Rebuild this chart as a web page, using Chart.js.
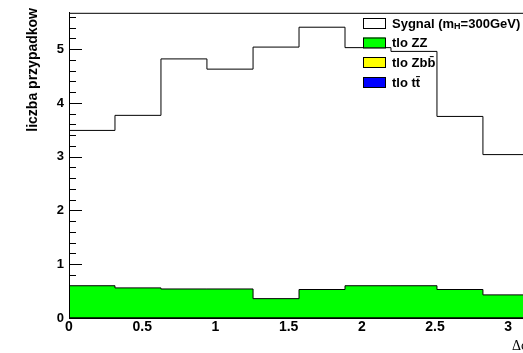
<!DOCTYPE html>
<html>
<head>
<meta charset="utf-8">
<script src="https://cdn.jsdelivr.net/npm/chart.js@4"></script>
<style>
  html, body { margin: 0; padding: 0; background: #fff; overflow: hidden; }
  #wrap { width: 523px; height: 353px; overflow: hidden; }
</style>
</head>
<body>
<div id="wrap"><canvas id="c" width="545" height="353"></canvas></div>
<script>
// bin edges of the delta-phi histogram (10 bins, 0..pi)
const binEdges = [0, 0.314, 0.628, 0.942, 1.257, 1.571, 1.885, 2.199, 2.513, 2.827, 3.1416];
const sygnal = [3.49, 3.77, 4.82, 4.63, 5.04, 5.41, 5.03, 4.96, 3.75, 3.04];
const tloZZ = [0.60, 0.56, 0.54, 0.54, 0.36, 0.53, 0.60, 0.60, 0.53, 0.43];
const tloZbb = [0, 0, 0, 0, 0, 0, 0, 0, 0, 0];
const tloTt = [0, 0, 0, 0, 0, 0, 0, 0, 0, 0];
const legendLabels = ['Sygnal (m', 'tlo ZZ', 'tlo Zbb\u0304', 'tlo tt\u0304'];
const legendColors = ['#ffffff', '#00ff00', '#ffff00', '#0000ff'];
const yTitle = 'liczba przypadkow';
const xTitle = '\u0394\u03c6';

const FONT = '"Liberation Sans", Arial, sans-serif';

// histogram -> step points (last bin closed at the upper edge)
function toSteps(vals) {
  const pts = vals.map((v, i) => ({ x: binEdges[i], y: v }));
  pts.push({ x: binEdges[binEdges.length - 1], y: vals[vals.length - 1] });
  return pts;
}

function histo(label, vals, fillColor) {
  return {
    label: label,
    data: toSteps(vals),
    stepped: 'before',
    borderColor: '#000',
    borderWidth: 1,
    backgroundColor: fillColor || 'transparent',
    fill: fillColor ? 'origin' : false,
    pointRadius: 0
  };
}

const rootLook = {
  id: 'rootLook',
  beforeDatasetsDraw(chart) {
    const ctx = chart.ctx;
    const a = chart.chartArea;
    const y = chart.scales.y;
    ctx.save();
    ctx.strokeStyle = '#000';
    ctx.lineWidth = 1;
    // y ticks, major and minor, drawn inside the frame
    for (let k = 0; k <= 28; k++) {
      const v = k * 0.2;
      if (v > y.max) break;
      const py = Math.round(y.getPixelForValue(v)) + 0.5;
      const len = (k % 5 === 0) ? 13 : 7;
      ctx.beginPath();
      ctx.moveTo(a.left, py);
      ctx.lineTo(a.left + len, py);
      ctx.stroke();
    }
    ctx.restore();
  },
  afterDatasetsDraw(chart) {
    const ctx = chart.ctx;
    const a = chart.chartArea;
    ctx.save();
    ctx.strokeStyle = '#000';
    ctx.lineWidth = 1;
    // frame
    ctx.beginPath();
    ctx.moveTo(a.left + 0.5, a.bottom + 0.5);
    ctx.lineTo(a.left + 0.5, a.top + 0.5);
    ctx.lineTo(a.right, a.top + 0.5);
    ctx.moveTo(a.left, a.bottom + 0.5);
    ctx.lineTo(a.right, a.bottom + 0.5);
    ctx.stroke();

    // legend
    const bx = 363, bw = 22, bh = 10;
    const rows = [18, 37.5, 57, 77];
    ctx.font = 'bold 13px ' + FONT;
    ctx.textBaseline = 'middle';
    ctx.textAlign = 'left';
    rows.forEach((ry, i) => {
      ctx.fillStyle = legendColors[i];
      ctx.fillRect(bx, ry, bw, bh);
      ctx.strokeRect(bx + 0.5, ry + 0.5, bw, bh);
      ctx.fillStyle = '#000';
      const ty = ry + bh / 2 + 1;
      if (i === 0) {
        ctx.fillText(legendLabels[0], 392, ty);
        let tx = 392 + ctx.measureText(legendLabels[0]).width;
        ctx.font = 'bold 9px ' + FONT;
        ctx.fillText('H', tx, ty + 3);
        tx += ctx.measureText('H').width;
        ctx.font = 'bold 13px ' + FONT;
        ctx.fillText('=300GeV)', tx, ty);
      } else {
        ctx.fillText(legendLabels[i], 392, ty);
      }
    });

    // axis titles
    ctx.font = 'bold 14px ' + FONT;
    ctx.textBaseline = 'alphabetic';
    ctx.save();
    ctx.translate(37, 8);
    ctx.rotate(-Math.PI / 2);
    ctx.textAlign = 'right';
    ctx.fillText(yTitle, 0, 0);
    ctx.restore();
    ctx.font = '14px "Liberation Serif", "Times New Roman", serif';
    ctx.textAlign = 'right';
    ctx.fillText(xTitle, a.right, 350);
    ctx.restore();
  }
};

new Chart(document.getElementById('c'), {
  type: 'line',
  data: {
    datasets: [
      histo('tlo tt', tloTt, '#0000ff'),
      histo('tlo Zbb', tloZbb, '#ffff00'),
      histo('tlo ZZ', tloZZ, '#00ff00'),
      histo('Sygnal', sygnal, null)
    ]
  },
  options: {
    responsive: false,
    animation: false,
    layout: { padding: { left: 0, right: 16, top: 8, bottom: 0 } },
    plugins: { legend: { display: false }, tooltip: { enabled: false } },
    scales: {
      x: {
        type: 'linear',
        min: 0,
        max: 3.1416,
        afterFit: s => { s.height = 35; },
        grid: { display: false, drawTicks: false },
        border: { display: true, color: '#000' },
        ticks: {
          stepSize: 0.5,
          includeBounds: false,
          maxRotation: 0,
          padding: 1,
          color: '#000',
          font: { family: FONT, size: 14, weight: 'bold' },
          callback: v => String(Math.round(v * 10) / 10)
        }
      },
      y: {
        min: 0,
        max: 5.678,
        afterFit: s => { s.width = 69; },
        grid: { display: false, drawTicks: false },
        border: { display: true, color: '#000' },
        ticks: {
          stepSize: 1,
          includeBounds: false,
          padding: 5,
          color: '#000',
          font: { family: FONT, size: 13, weight: 'bold' },
          callback: v => String(v)
        }
      }
    }
  },
  plugins: [rootLook]
});
</script>
</body>
</html>
